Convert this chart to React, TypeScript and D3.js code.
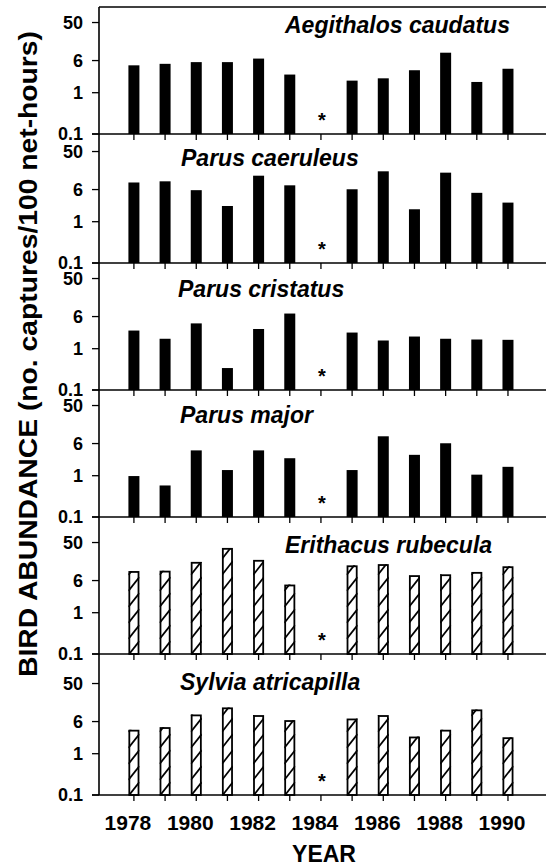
import * as d3 from 'd3';
import React from 'react';

// years on the x axis (no sampling in 1984, marked with *)
const years = [1978, 1979, 1980, 1981, 1982, 1983, 1984, 1985, 1986, 1987, 1988, 1989, 1990];
const yearLabels = [1978, 1980, 1982, 1984, 1986, 1988, 1990];
const missingYear = 1984;
const yTicks = [0.1, 1, 6, 50];

const speciesNames = [
  'Aegithalos caudatus',
  'Parus caeruleus',
  'Parus cristatus',
  'Parus major',
  'Erithacus rubecula',
  'Sylvia atricapilla',
];

// captures / 100 net-hours
const aegithalos = [4.6, 5.0, 5.5, 5.5, 6.7, 2.75, null, 1.96, 2.23, 3.5, 9.3, 1.82, 3.8];
const caeruleus = [8.9, 9.5, 5.8, 2.4, 13, 7.6, null, 6.1, 16.6, 2.0, 15.4, 5.0, 2.9];
const cristatus = [2.75, 1.74, 4.1, 0.34, 3.0, 7.1, null, 2.46, 1.58, 1.97, 1.74, 1.67, 1.64];
const major = [0.98, 0.58, 4.1, 1.37, 4.1, 2.65, null, 1.37, 9.0, 3.2, 6.1, 1.06, 1.64];
const rubecula = [10.2, 10.4, 17, 37, 19, 4.8, null, 14, 15, 8.1, 8.5, 9.7, 13.3];
const atricapilla = [3.8, 4.4, 8.9, 13.2, 8.6, 6.5, null, 7.1, 8.6, 2.6, 3.8, 11.8, 2.5];

const seriesList = [aegithalos, caeruleus, cristatus, major, rubecula, atricapilla];
const hatched = [false, false, false, false, true, true];

// layout
const W = 546;
const H = 867;
const left = 99;
const right = 546;
const panelTops = [7, 134, 263, 390, 517, 654];
const panelBottoms = [134, 263, 390, 517, 654, 795];
const titleX = [285, 181, 178, 180, 285, 180];
const titleY = [33, 166, 297, 423, 553, 690];
const decadePx = 41.3;
const barW = 11;
const font = '"Liberation Sans", Arial, Helvetica, sans-serif';

const x = d3.scaleLinear().domain([1976.88, 1991.22]).range([left, right]);

function Panel({ i }: { i: number }) {
  const top = panelTops[i];
  const bottom = panelBottoms[i];
  const y = d3
    .scaleLog()
    .domain([0.1, 0.1 * Math.pow(10, (bottom - top) / decadePx)])
    .range([bottom, top]);
  const data = seriesList[i];
  const isHatched = hatched[i];

  return (
    <g>
      {data.map((v, j) => {
        if (v == null) return null;
        const x0 = x(years[j]) - barW / 2;
        const yt = y(v);
        const h = bottom - yt;
        if (!isHatched) {
          return <rect key={j} x={x0} y={yt} width={barW} height={h} fill="#000" />;
        }
        const id = `clip-${i}-${j}`;
        const step = 16;
        const rise = 14;
        const lines = d3.range(0, h + step, step);
        return (
          <g key={j}>
            <clipPath id={id}>
              <rect x={x0} y={yt} width={barW} height={h} />
            </clipPath>
            <rect x={x0} y={yt} width={barW} height={h} fill="#fff" />
            <g clipPath={`url(#${id})`}>
              {lines.map((k) => (
                <line
                  key={k}
                  x1={x0}
                  y1={bottom - k + 1}
                  x2={x0 + barW}
                  y2={bottom - k - rise + 1}
                  stroke="#000"
                  strokeWidth={1.8}
                />
              ))}
            </g>
            <rect x={x0 + 0.9} y={yt + 0.9} width={barW - 1.8} height={h - 0.9} fill="none" stroke="#000" strokeWidth={1.8} />
          </g>
        );
      })}

      {/* missing year marker */}
      <text
        x={x(missingYear) + 1}
        y={y(0.26) + 10}
        textAnchor="middle"
        fontSize={20}
        fontWeight="bold"
        fontFamily={font}
      >
        *
      </text>

      {/* baseline */}
      <line x1={left - 7} x2={right} y1={bottom} y2={bottom} stroke="#000" strokeWidth={1.6} />
      {/* year ticks */}
      {years.map((yr) => (
        <line key={yr} x1={x(yr)} x2={x(yr)} y1={bottom} y2={bottom + 6} stroke="#000" strokeWidth={1.3} />
      ))}

      {/* y ticks */}
      {yTicks.map((t) => (
        <g key={t}>
          <line x1={left - 7} x2={left} y1={y(t)} y2={y(t)} stroke="#000" strokeWidth={1.3} />
          <text
            x={left - 16}
            y={y(t)}
            dy="0.36em"
            textAnchor="end"
            fontSize={18}
            fontWeight="bold"
            fontFamily={font}
          >
            {t}
          </text>
        </g>
      ))}

      <text
        x={titleX[i]}
        y={titleY[i]}
        fontSize={23}
        fontWeight="bold"
        fontStyle="italic"
        fontFamily={font}
      >
        {speciesNames[i]}
      </text>
    </g>
  );
}

export default function App() {
  const lastBottom = panelBottoms[panelBottoms.length - 1];
  return (
    <svg
      width={W}
      height={H}
      viewBox={`0 0 ${W} ${H}`}
      style={{ position: 'absolute', left: 0, top: 0, background: '#fff' }}
    >
      <rect width={W} height={H} fill="#fff" />
      {speciesNames.map((_, i) => (
        <Panel key={i} i={i} />
      ))}

      {/* frame: top line + left axis */}
      <line x1={left} x2={right} y1={panelTops[0]} y2={panelTops[0]} stroke="#000" strokeWidth={1.6} />
      <line x1={left} x2={left} y1={panelTops[0]} y2={lastBottom} stroke="#000" strokeWidth={1.6} />

      {/* x labels */}
      {yearLabels.map((yr) => (
        <text
          key={yr}
          x={x(yr) - 6}
          y={lastBottom + 35}
          textAnchor="middle"
          fontSize={21}
          fontWeight="bold"
          fontFamily={font}
        >
          {yr}
        </text>
      ))}
      <text x={324} y={862} textAnchor="middle" fontSize={23} fontWeight="bold" fontFamily={font}>
        YEAR
      </text>

      <text
        transform={`translate(37,354) rotate(-90)`}
        textAnchor="middle"
        fontSize={25}
        fontWeight="bold"
        fontFamily={font}
        textLength={646}
        lengthAdjust="spacingAndGlyphs"
      >
        BIRD ABUNDANCE (no. captures/100 net-hours)
      </text>
    </svg>
  );
}
